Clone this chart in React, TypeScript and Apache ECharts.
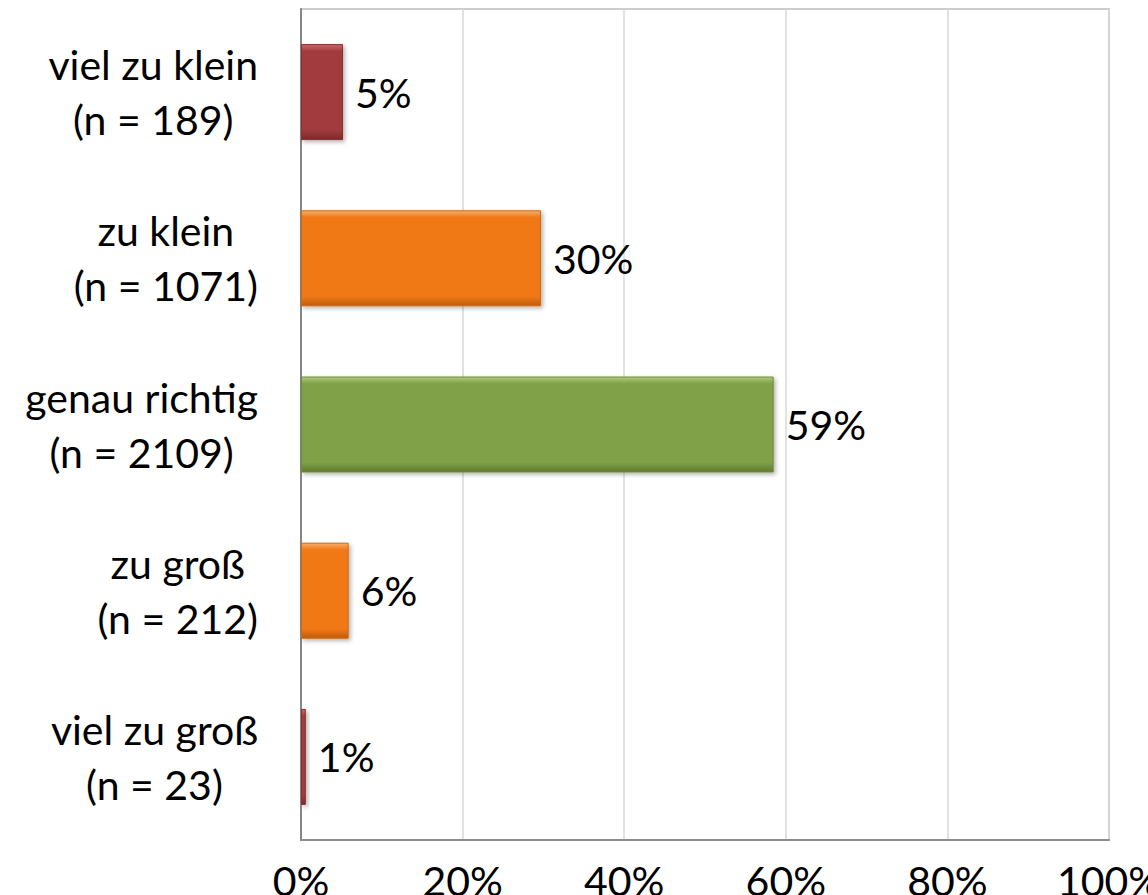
import React, { useEffect, useRef } from "react";
import * as echarts from "echarts";

const categories = ["viel zu klein", "zu klein", "genau richtig", "zu groß", "viel zu groß"];
const counts = ["189", "1071", "2109", "212", "23"];
const shares = [5.2, 29.7, 58.5, 5.9, 0.6];
const kinds = ["red", "orange", "green", "orange", "red"];
const xTicks = [0, 20, 40, 60, 80, 100];

const palette: Record<string, { light: string; base: string; dark: string; edge: string }> = {
  red: { light: "#C86A6A", base: "#A23B3D", dark: "#7A2A2C", edge: "#8A3032" },
  orange: { light: "#FAAE66", base: "#F07916", dark: "#C05C0C", edge: "#D0680E" },
  green: { light: "#AFCB7A", base: "#80A147", dark: "#5E7A30", edge: "#6E8C3C" },
};

export default function App() {
  const ref = useRef<HTMLDivElement>(null);
  useEffect(() => {
    document.body.style.margin = "0";
    const chart = echarts.init(ref.current!, null, { renderer: "svg" });
    const data = shares.map((v, i) => {
      const p = palette[kinds[i]];
      return {
        value: v,
        itemStyle: {
          color: new echarts.graphic.LinearGradient(0, 0, 0, 1, [
            { offset: 0, color: p.light },
            { offset: 0.07, color: p.base },
            { offset: 0.9, color: p.base },
            { offset: 1, color: p.dark },
          ]),
          borderColor: p.edge,
          borderWidth: 1,
          shadowBlur: 4,
          shadowOffsetX: 2,
          shadowOffsetY: 2,
          shadowColor: "rgba(0,0,0,0.3)",
        },
      };
    });
    chart.setOption({
      animation: false,
      backgroundColor: "#ffffff",
      grid: {
        left: 301,
        right: 39,
        top: 9,
        bottom: 55,
        containLabel: false,
        outerBoundsMode: "none",
        show: true,
        borderColor: "#cccccc",
        borderWidth: 2,
        backgroundColor: "transparent",
      },
      xAxis: {
        type: "value",
        min: xTicks[0],
        max: xTicks[xTicks.length - 1],
        interval: 20,
        axisLine: { show: true, lineStyle: { color: "#8c8c8c", width: 2 } },
        axisTick: { show: false },
        splitLine: { show: true, lineStyle: { color: "#d9d9d9", width: 1.5 } },
        axisLabel: {
          formatter: "{value}%",
          fontFamily: "Lato",
          fontSize: 41,
          color: "#000",
          margin: 20,
        },
      },
      yAxis: {
        type: "category",
        inverse: true,
        data: categories,
        axisLine: { show: true, lineStyle: { color: "#868686", width: 2 } },
        axisTick: { show: false },
        axisLabel: {
          align: "right",
          margin: 43,
          formatter: (v: string, i: number) => `{a|${v}}\n{a|(n = ${counts[i]})}`,
          rich: {
            a: {
              align: "center",
              fontFamily: "Lato",
              fontSize: 41,
              lineHeight: 55,
              color: "#000",
            },
          },
        },
      },
      series: [
        {
          type: "bar",
          data,
          barWidth: 96,
          label: {
            show: true,
            position: "right",
            distance: 12,
            formatter: (p: any) => `${Math.round(p.value)}%`,
            fontFamily: "Lato",
            fontSize: 41,
            color: "#000",
          },
        },
      ],
    });
    return () => chart.dispose();
  }, []);
  return <div ref={ref} style={{ position: "absolute", left: 0, top: 0, width: 1148, height: 895 }} />;
}
